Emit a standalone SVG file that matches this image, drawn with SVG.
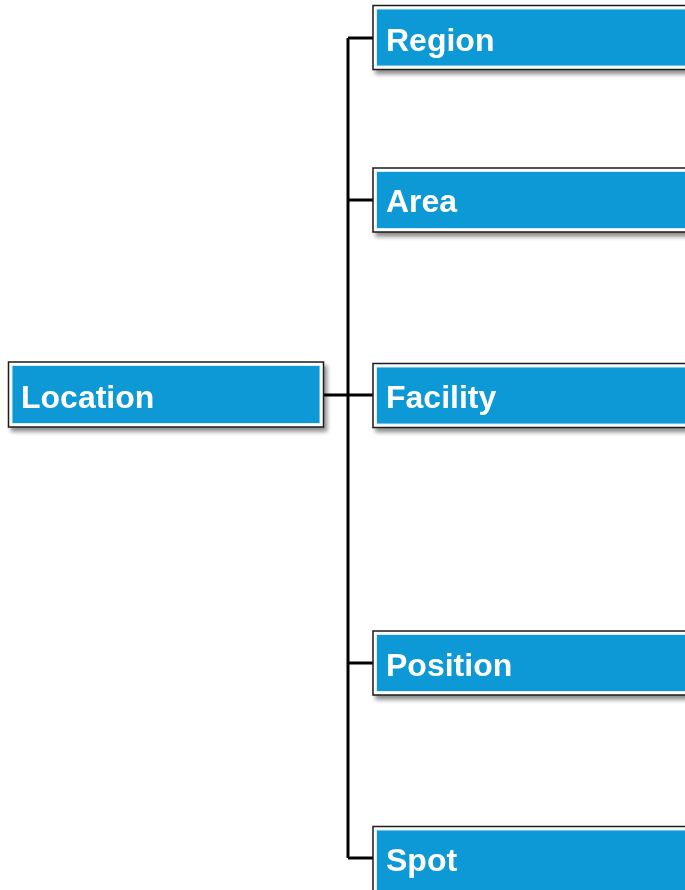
<svg xmlns="http://www.w3.org/2000/svg" width="685" height="890" viewBox="0 0 685 890">
<style>
.outer{fill:#ffffff;stroke:#1a1a1a;stroke-width:1.5}
.inner{fill:#0b98d6;stroke:#d9eff9;stroke-width:1}
.lbl{font-family:"Liberation Sans",Arial,sans-serif;font-weight:bold;font-size:32px;fill:#ffffff}
.conn{fill:none;stroke:#000000;stroke-width:3}
</style>
<defs>
<filter id="sh" x="-5%" y="-10%" width="115%" height="140%">
<feGaussianBlur in="SourceAlpha" stdDeviation="2"/>
<feOffset dx="3" dy="4" result="b"/>
<feComponentTransfer><feFuncA type="linear" slope="0.45"/></feComponentTransfer>
<feMerge><feMergeNode/><feMergeNode in="SourceGraphic"/></feMerge>
</filter>
</defs>
<rect width="685" height="890" fill="#ffffff"/>
<g id="connectors">
<path class="conn" d="M324 395 H348 M348 38 V858 M348 38 H373 M348 200 H373 M348 395 H373 M348 663 H373 M348 858 H373"/>
</g>
<g id="location" filter="url(#sh)">
<rect class="outer" x="8.5" y="362" width="315" height="65"/>
<rect class="inner" x="12" y="365.5" width="308" height="58"/>
<text class="lbl" x="21" y="408">Location</text>
</g>
<g id="region" filter="url(#sh)">
<rect class="outer" x="373" y="5.5" width="320" height="64"/>
<rect class="inner" x="376.5" y="9" width="320" height="57"/>
<text class="lbl" x="386" y="51">Region</text>
</g>
<g id="area" filter="url(#sh)">
<rect class="outer" x="373" y="168" width="320" height="64"/>
<rect class="inner" x="376.5" y="171.5" width="320" height="57"/>
<text class="lbl" x="386" y="212">Area</text>
</g>
<g id="facility" filter="url(#sh)">
<rect class="outer" x="373" y="363.5" width="320" height="64"/>
<rect class="inner" x="376.5" y="367" width="320" height="57"/>
<text class="lbl" x="386" y="408">Facility</text>
</g>
<g id="position" filter="url(#sh)">
<rect class="outer" x="373" y="631" width="320" height="64"/>
<rect class="inner" x="376.5" y="634.5" width="320" height="57"/>
<text class="lbl" x="386" y="676">Position</text>
</g>
<g id="spot" filter="url(#sh)">
<rect class="outer" x="373" y="826.5" width="320" height="70"/>
<rect class="inner" x="376.5" y="830" width="320" height="62"/>
<text class="lbl" x="386" y="871">Spot</text>
</g>
</svg>
